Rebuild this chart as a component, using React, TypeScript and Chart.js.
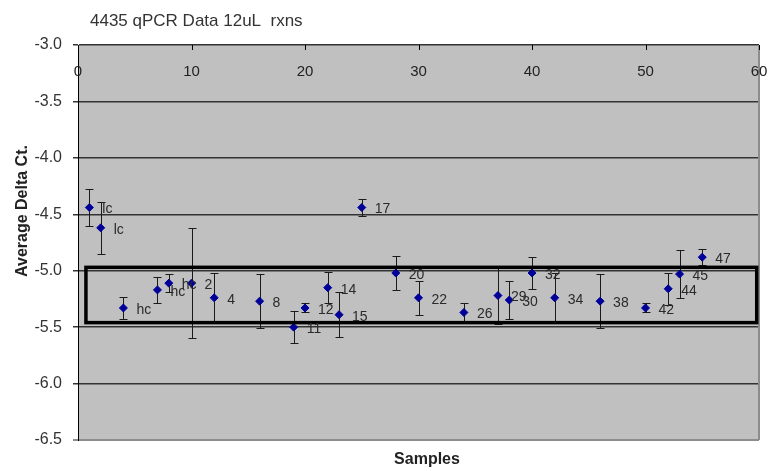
import React, { useEffect, useRef } from 'react';
import { Chart, registerables } from 'chart.js';

Chart.register(...registerables);

const titleText = '4435 qPCR Data 12uL  rxns';
const yTitle = 'Average Delta Ct.';
const xTitle = 'Samples';

const sampleX = [1, 2, 4, 7, 8, 10, 12, 16, 19, 20, 22, 23, 25, 28, 30, 34, 37, 38, 40, 42, 46, 50, 52, 53, 55];
const avgDeltaCt = [-4.44, -4.62, -5.33, -5.17, -5.11, -5.11, -5.24, -5.27, -5.5, -5.33, -5.15, -5.39, -4.44, -5.02, -5.24, -5.37, -5.22, -5.26, -5.02, -5.24, -5.27, -5.33, -5.16, -5.03, -4.88];
const errorBars = [0.16, 0.23, 0.1, 0.115, 0.08, 0.49, 0.22, 0.24, 0.14, 0.04, 0.14, 0.2, 0.075, 0.15, 0.15, 0.08, 0.25, 0.17, 0.14, 0.22, 0.24, 0.04, 0.14, 0.21, 0.07];
const pointLabels = ['lc', 'lc', 'hc', 'hc', 'hc', '2', '4', '8', '11', '12', '14', '15', '17', '20', '22', '26', '29', '30', '32', '34', '38', '42', '44', '45', '47'];

const xTicks = [0, 10, 20, 30, 40, 50, 60];
const yTicks = [-3.0, -3.5, -4.0, -4.5, -5.0, -5.5, -6.0, -6.5];

const boxXRange = [0.7, 59.8];
const boxYRange = [-4.97, -5.46];

const FONT = "'Liberation Sans', Arial, Helvetica, sans-serif";

const excelPlugin = {
  id: 'excelLook',
  beforeDraw(chart: any) {
    const { ctx, chartArea: a, width, height } = chart;
    ctx.save();
    ctx.fillStyle = '#ffffff';
    ctx.fillRect(0, 0, width, height);
    ctx.fillStyle = '#c0c0c0';
    ctx.fillRect(a.left, a.top, a.right - a.left, a.bottom - a.top);
    ctx.restore();
  },
  beforeDatasetsDraw(chart: any) {
    const { ctx, chartArea: a, scales } = chart;
    const xs = scales.x;
    const ys = scales.y;
    ctx.save();
    // right border of plot area
    ctx.strokeStyle = '#8c8c8c';
    ctx.lineWidth = 2;
    ctx.beginPath();
    ctx.moveTo(a.right, a.top);
    ctx.lineTo(a.right, a.bottom);
    ctx.stroke();
    // error bars
    ctx.strokeStyle = '#1a1a1a';
    ctx.lineWidth = 1;
    ctx.beginPath();
    sampleX.forEach((xv, i) => {
      const px = Math.round(xs.getPixelForValue(xv)) + 0.5;
      const yt = Math.round(ys.getPixelForValue(avgDeltaCt[i] + errorBars[i])) + 0.5;
      const yb = Math.round(ys.getPixelForValue(avgDeltaCt[i] - errorBars[i])) + 0.5;
      ctx.moveTo(px, yt);
      ctx.lineTo(px, yb);
      ctx.moveTo(px - 4, yt);
      ctx.lineTo(px + 4, yt);
      ctx.moveTo(px - 4, yb);
      ctx.lineTo(px + 4, yb);
    });
    ctx.stroke();
    ctx.restore();
  },
  afterDatasetsDraw(chart: any) {
    const { ctx, chartArea: a, scales } = chart;
    const xs = scales.x;
    const ys = scales.y;
    ctx.save();
    // highlighted rectangle
    const bx1 = xs.getPixelForValue(boxXRange[0]);
    const bx2 = xs.getPixelForValue(boxXRange[1]);
    const by1 = ys.getPixelForValue(boxYRange[0]);
    const by2 = ys.getPixelForValue(boxYRange[1]);
    ctx.strokeStyle = '#000000';
    ctx.lineWidth = 3.5;
    ctx.strokeRect(bx1, by1, bx2 - bx1, by2 - by1);

    // point labels
    ctx.fillStyle = '#2a2a2a';
    ctx.font = `14px ${FONT}`;
    ctx.textAlign = 'left';
    ctx.textBaseline = 'middle';
    sampleX.forEach((xv, i) => {
      const px = xs.getPixelForValue(xv);
      const py = ys.getPixelForValue(avgDeltaCt[i]);
      ctx.fillText(pointLabels[i], px + 13, py + 2);
    });

    // top category axis tick marks and labels (inside plot)
    ctx.strokeStyle = '#000000';
    ctx.lineWidth = 1;
    ctx.beginPath();
    xTicks.forEach((v) => {
      const px = Math.round(xs.getPixelForValue(v)) + 0.5;
      ctx.moveTo(px, a.top);
      ctx.lineTo(px, a.top + 5);
    });
    ctx.stroke();
    ctx.fillStyle = '#222222';
    ctx.font = `15px ${FONT}`;
    ctx.textAlign = 'center';
    ctx.textBaseline = 'middle';
    xTicks.forEach((v) => {
      ctx.fillText(String(v), xs.getPixelForValue(v), a.top + 27);
    });

    // chart title
    ctx.fillStyle = '#333333';
    ctx.font = `17px ${FONT}`;
    ctx.textAlign = 'left';
    ctx.textBaseline = 'middle';
    ctx.fillText(titleText, 90, 21);

    // axis titles
    ctx.fillStyle = '#222222';
    ctx.font = `bold 16px ${FONT}`;
    ctx.textAlign = 'center';
    ctx.textBaseline = 'middle';
    ctx.fillText(xTitle, 427, 460);
    ctx.save();
    ctx.translate(23, 211);
    ctx.rotate(-Math.PI / 2);
    ctx.fillText(yTitle, 0, 0);
    ctx.restore();

    ctx.restore();
  },
};

export default function App() {
  const canvasRef = useRef<HTMLCanvasElement | null>(null);

  useEffect(() => {
    if (!canvasRef.current) return;
    const chart = new Chart(canvasRef.current, {
      type: 'scatter',
      data: {
        datasets: [
          {
            label: yTitle,
            data: sampleX.map((x, i) => ({ x, y: avgDeltaCt[i] })),
            pointStyle: 'rectRot',
            pointRadius: 4,
            pointBorderWidth: 1,
            backgroundColor: '#000099',
            borderColor: '#000099',
            showLine: false,
          },
        ],
      },
      options: {
        animation: false,
        responsive: false,
        layout: { padding: { top: 45, bottom: 31, left: 0, right: 16 } },
        plugins: {
          legend: { display: false },
          tooltip: { enabled: false },
          title: { display: false },
        },
        scales: {
          x: {
            type: 'linear',
            min: 0,
            max: 60,
            display: false,
          },
          y: {
            type: 'linear',
            min: -6.5,
            max: -3.0,
            afterBuildTicks: (s: any) => {
              s.ticks = [...yTicks].sort((p, q) => p - q).map((v) => ({ value: v }));
            },
            afterFit: (s: any) => {
              s.width = 78;
            },
            ticks: {
              callback: (v: any) => Number(v).toFixed(1),
              font: { family: FONT, size: 16 },
              color: '#333333',
              padding: 11,
            },
            grid: {
              color: (c: any) => (c.tick && c.tick.value === -6.5 ? '#8c8c8c' : '#333333'),
              lineWidth: (c: any) => (c.tick && c.tick.value === -6.5 ? 2 : 1.5),
              tickLength: 5,
            },
            border: { display: true, color: '#000000', width: 1 },
          },
        },
      },
      plugins: [excelPlugin],
    });
    return () => chart.destroy();
  }, []);

  return (
    <div style={{ position: 'absolute', left: 0, top: 0, width: 775, height: 471 }}>
      <canvas ref={canvasRef} width={775} height={471} style={{ display: 'block' }} />
    </div>
  );
}
